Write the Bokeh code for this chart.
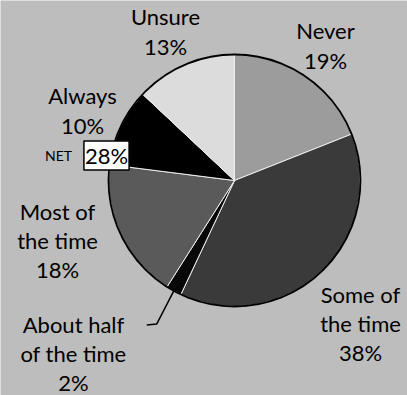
import math
from bokeh.plotting import figure
from bokeh.models import Range1d, Label, ColumnDataSource
from bokeh.core.properties import value
from bokeh.embed import file_html
from bokeh.resources import INLINE

categories = ["Never", "Some of\nthe time", "About half\nof the time", "Most of\nthe time", "Always", "Unsure"]
values = [19, 38, 2, 18, 10, 13]
colors = ["#9c9c9c", "#3a3a3a", "#080808", "#5a5a5a", "#000000", "#dcdcdc"]
net_label = "NET"
net_value = "28%"

W, H = 407, 395
FONT = "Lato"

p = figure(width=W, height=H, output_backend="svg", toolbar_location=None,
           x_range=Range1d(0, W), y_range=Range1d(0, H), min_border=0,
           background_fill_color="#bdbdbd", border_fill_color="#bdbdbd")
p.axis.visible = False
p.grid.visible = False
p.outline_line_color = None

cx, cy, r = 234, H - 180, 126
total = sum(values)
starts, ends, mids = [], [], []
cum = 0
for v in values:
    a0 = math.pi / 2 - 2 * math.pi * cum / total
    cum += v
    a1 = math.pi / 2 - 2 * math.pi * cum / total
    starts.append(a0)
    ends.append(a1)
    mids.append((a0 + a1) / 2)

src = ColumnDataSource(dict(start=starts, end=ends, color=colors))
p.wedge(x=cx, y=cy, radius=r, start_angle="start", end_angle="end", direction="clock",
        fill_color="color", line_color="#f0f0f0", line_width=1, source=src)
p.scatter(x=[cx], y=[cy], size=2 * r, fill_color=None, line_color="black", line_width=1.8)

# label positions (layout)
label_pos = [(325, 45), (360, 323), (73, 353), (57, 240), (82, 110), (165, 31)]
texts = [f"{c}\n{v}%" for c, v in zip(categories, values)]
p.text(x=[lp[0] for lp in label_pos], y=[H - lp[1] for lp in label_pos], text=texts,
       text_font=value(FONT), text_font_size="22px", text_align="center",
       text_baseline="middle", text_line_height=1.08, text_color="black")

# leader line for "About half of the time"
m = mids[2]
ex, ey = cx + r * math.cos(m), cy + r * math.sin(m)
p.line(x=[ex, ex - 17, ex - 27], y=[ey, ey - 33, ey - 34], line_color="black", line_width=1.5)

# NET box
p.add_layout(Label(x=58, y=H - 155, text=net_label, text_font=FONT, text_font_size="14px",
                   text_color="black", text_align="center", text_baseline="middle"))
p.add_layout(Label(x=106, y=H - 155, text=net_value, text_font=FONT, text_font_size="22px",
                   text_color="black", text_align="center", text_baseline="middle",
                   background_fill_color="white", border_line_color="black",
                   border_line_width=1.5, padding=1))

open("out.html", "w").write(file_html(p, INLINE))
